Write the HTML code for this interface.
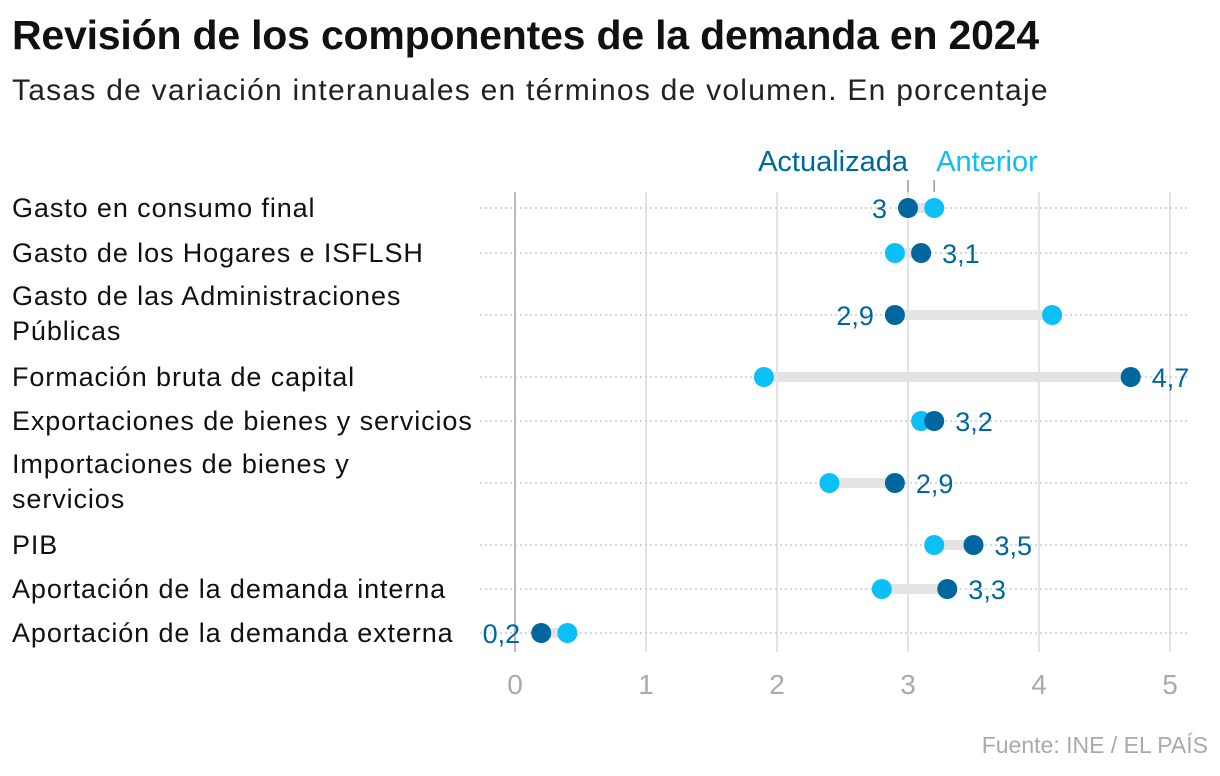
<!DOCTYPE html>
<html><head><meta charset="utf-8"><style>
body{margin:0;background:#fff;width:1220px;height:776px;overflow:hidden;font-family:"Liberation Sans",sans-serif}
h1{position:absolute;left:12px;top:12px;margin:0;font-size:41px;font-weight:bold;color:#111;letter-spacing:-0.2px}
.sub{position:absolute;left:12px;top:74px;font-size:30px;color:#222;letter-spacing:1.25px}
.src{position:absolute;right:12px;top:732px;font-size:23px;color:#aaa}
svg{position:absolute;left:0;top:0}
</style></head><body>
<h1>Revisión de los componentes de la demanda en 2024</h1>
<div class="sub">Tasas de variación interanuales en términos de volumen. En porcentaje</div>
<div class="src">Fuente: INE / EL PAÍS</div>
<svg id="c" width="1220" height="776"></svg>
<script>
const categories=[["Gasto en consumo final"],["Gasto de los Hogares e ISFLSH"],["Gasto de las Administraciones","Públicas"],["Formación bruta de capital"],["Exportaciones de bienes y servicios"],["Importaciones de bienes y","servicios"],["PIB"],["Aportación de la demanda interna"],["Aportación de la demanda externa"]];
const actualizada=[3,3.1,2.9,4.7,3.2,2.9,3.5,3.3,0.2];
const anterior=[3.2,2.9,4.1,1.9,3.1,2.4,3.2,2.8,0.4];
const ticks=[0,1,2,3,4,5];
const rowY=[208,253,315,377,421,483,545,589,633];
const DARK="#00679e",LIGHT="#0cbff5";
const x=v=>515+v*131;
const svg=document.getElementById('c');const NS="http://www.w3.org/2000/svg";
function el(t,a,txt){const e=document.createElementNS(NS,t);for(const k in a)e.setAttribute(k,a[k]);if(txt!==undefined)e.textContent=txt;svg.appendChild(e);return e;}
ticks.forEach(t=>{
 const g=el('line',{x1:x(t),x2:x(t),y1:192,y2:652,stroke:t===0?'#bbb':'#e3e3e3','stroke-width':2});
 
 
 const l=el('text',{x:x(t),y:694,'text-anchor':'middle','font-size':28,fill:'#aaa'},String(t));
 
 
});
categories.forEach((c,i)=>{
 const y=rowY[i];
 const r=el('line',{x1:480,x2:1190,y1:y,y2:y,stroke:'#ccc','stroke-width':1.5,'stroke-dasharray':'2,3'});
 
 
 c.forEach((line,j)=>{
  const yy=c.length>1?y-10+j*35:y+9;
  const t=el('text',{x:12,y:yy,'font-size':27,fill:'#111','letter-spacing':'0.9'},line);
  
  
 });
 const a=actualizada[i],b=anterior[i];
 const bar=el('line',{x1:x(a),x2:x(b),y1:y,y2:y,stroke:'#e3e3e3','stroke-width':10});
 
 
 const d2=el('circle',{cx:x(b),cy:y,r:10,fill:LIGHT});
 
 
 const d1=el('circle',{cx:x(a),cy:y,r:10,fill:DARK});
 
 
 const right=a>=b;
 const lab=el('text',{x:right?x(a)+21:x(a)-21,y:y+10,'text-anchor':right?'start':'end','font-size':27,fill:DARK},String(a).replace('.',','));
 
 
});
const la=el('text',{x:x(actualizada[0]),y:171,'text-anchor':'end','font-size':29,fill:DARK},'Actualizada');


const lb=el('text',{x:x(anterior[0])+2,y:171,'text-anchor':'start','font-size':29,fill:LIGHT},'Anterior');


[actualizada[0],anterior[0]].forEach(v=>{const t=el('line',{x1:x(v),x2:x(v),y1:180,y2:192,stroke:'#999','stroke-width':1.5});
 
 });
</script>
</body></html>
